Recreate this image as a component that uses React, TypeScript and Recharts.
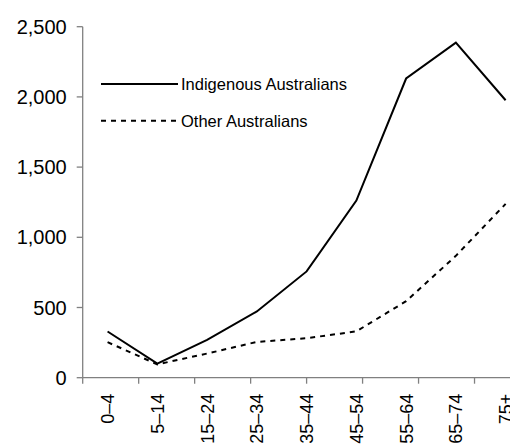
import React from 'react';
import { LineChart, Line, XAxis, YAxis, Legend } from 'recharts';

const ageGroups = ['0–4', '5–14', '15–24', '25–34', '35–44', '45–54', '55–64', '65–74', '75+'];
const indigenous = [329, 100, 270, 472, 757, 1262, 2131, 2386, 1976];
const other = [253, 95, 172, 255, 281, 330, 545, 868, 1238];
const yTicks = [0, 500, 1000, 1500, 2000, 2500];
const boundaryTicks = [0, 1, 2, 3, 4, 5, 6, 7, 8, 9];

const seriesNames = ['Indigenous Australians', 'Other Australians'];

const data = ageGroups.map((age, i) => ({
  age,
  indigenous: indigenous[i],
  other: other[i],
}));

const FONT = '"Liberation Sans", Arial, sans-serif';

const XLabel = (props: any) => {
  const { x, y, payload } = props;
  return (
    <g transform={`translate(${x},${y + 7})`}>
      <text
        transform="rotate(-90)"
        textAnchor="end"
        dy="0.36em"
        fontSize={18}
        fontFamily={FONT}
        fill="#000"
      >
        {payload.value}
      </text>
    </g>
  );
};

const EmptyTick = () => <g />;

const LegendContent = () => (
  <svg width={300} height={70} style={{ display: 'block', overflow: 'visible' }}>
    <line x1={0} y1={16} x2={77} y2={16} stroke="#000" strokeWidth={2} />
    <text x={80} y={16} dy="0.36em" fontSize={16.5} fontFamily={FONT} fill="#000">
      {seriesNames[0]}
    </text>
    <line x1={0} y1={52.7} x2={77} y2={52.7} stroke="#000" strokeWidth={2} strokeDasharray="5 5" />
    <text x={80} y={52.7} dy="0.36em" fontSize={16.5} fontFamily={FONT} fill="#000">
      {seriesNames[1]}
    </text>
  </svg>
);

export default function App() {
  return (
    <div style={{ width: 510, height: 440, overflow: 'hidden', position: 'relative' }}>
      <LineChart
        width={530}
        height={440}
        data={data}
        margin={{ top: 18.7, right: 7.5, left: 0, bottom: 0 }}
      >
        <XAxis
          xAxisId="b_cat"
          dataKey="age"
          scale="band"
          height={69.3}
          axisLine={false}
          tickLine={false}
          interval={0}
          tick={<XLabel />}
        />
        <XAxis
          xAxisId="a_grid"
          type="number"
          domain={[0, 9]}
          ticks={boundaryTicks}
          allowDataOverflow
          height={1}
          tick={<EmptyTick />}
          tickSize={6}
          axisLine={{ stroke: '#808080', strokeWidth: 1.3 }}
          tickLine={{ stroke: '#808080', strokeWidth: 1.3 }}
        />
        <YAxis
          domain={[0, 2500]}
          ticks={yTicks}
          width={74.7}
          tickSize={6}
          tickMargin={10}
          interval={0}
          tickFormatter={(v: number) => v.toLocaleString('en-US')}
          tick={{ fontSize: 20, fontFamily: FONT, fill: '#000' }}
          axisLine={{ stroke: '#808080', strokeWidth: 1.3 }}
          tickLine={{ stroke: '#808080', strokeWidth: 1.3 }}
        />
        <Legend
          layout="vertical"
          align="center"
          verticalAlign="middle"
          content={<LegendContent />}
          wrapperStyle={{ left: 93, top: 60, width: 300, height: 70 }}
        />
        <Line
          xAxisId="b_cat"
          type="linear"
          dataKey="indigenous"
          stroke="#000"
          strokeWidth={2}
          dot={false}
          isAnimationActive={false}
        />
        <Line
          xAxisId="b_cat"
          type="linear"
          dataKey="other"
          stroke="#000"
          strokeWidth={2}
          strokeDasharray="5 5"
          dot={false}
          isAnimationActive={false}
        />
      </LineChart>
    </div>
  );
}
